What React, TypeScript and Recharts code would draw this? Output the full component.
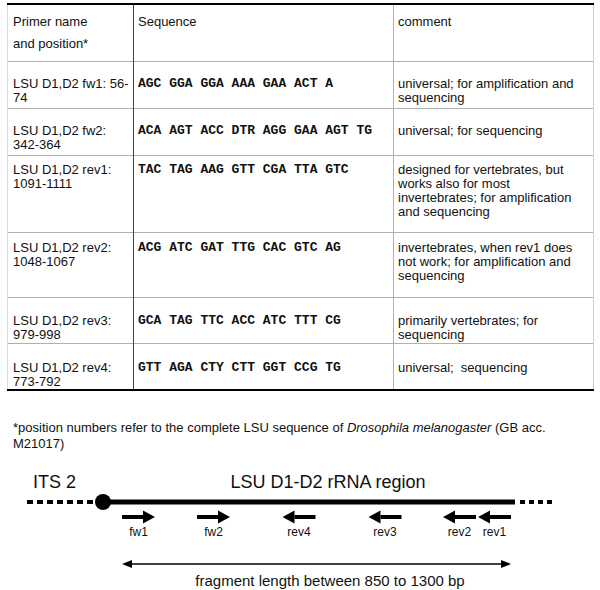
import React from "react";
import { ScatterChart, XAxis, YAxis, Scatter, ReferenceLine, ReferenceDot } from "recharts";

// table content
const primerNames = [
  "LSU D1,D2 fw1",
  "LSU D1,D2 fw2",
  "LSU D1,D2 rev1",
  "LSU D1,D2 rev2",
  "LSU D1,D2 rev3",
  "LSU D1,D2 rev4",
];
const primerPositions = ["56-74", "342-364", "1091-1111", "1048-1067", "979-998", "773-792"];
const sequences = [
  "AGC GGA GGA AAA GAA ACT A",
  "ACA AGT ACC DTR AGG GAA AGT TG",
  "TAC TAG AAG GTT CGA TTA GTC",
  "ACG ATC GAT TTG CAC GTC AG",
  "GCA TAG TTC ACC ATC TTT CG",
  "GTT AGA CTY CTT GGT CCG TG",
];
const comments = [
  "universal; for amplification and sequencing",
  "universal; for sequencing",
  "designed for vertebrates, but works also for most invertebrates; for amplification and sequencing",
  "invertebrates, when rev1 does not work; for amplification and sequencing",
  "primarily vertebrates; for sequencing",
  "universal;\u00a0 sequencing",
];

// diagram content (x = position along the schematic, not to scale)
const arrowLabels = ["fw1", "fw2", "rev4", "rev3", "rev2", "rev1"];
const arrowDirections = [1, 1, -1, -1, -1, -1];
const arrowCenters = [138.5, 213.5, 299, 385, 459.5, 494.5];
const regionStart = 103;
const regionEnd = 515;
const its2Span = [27, 93];
const downstreamSpan = [520, 553];
const fragmentSpan = [122, 511];
const fragmentText = "fragment length between 850 to 1300 bp";

// layout
const rowHeights = [57, 47, 47, 77, 65, 46, 47];
const rowPadTop = [7, 16, 16, 8, 9, 17, 18];
const colX = [7, 133, 393, 593];
const tableTop = 4;

const SANS = '"Liberation Sans", Arial, Helvetica, sans-serif';
const MONO = '"Liberation Mono", "Courier New", monospace';

// y levels inside the diagram chart
const Y = { title: 27, line: 47, arrow: 62, fragment: 109, fragText: 125 };

const Arrow = (props: any) => {
  const { cx, cy, payload } = props;
  const d = payload.dir;
  const half = 16.5;
  const tip = cx + d * half;
  const base = cx + d * (half - 12);
  const tail = cx - d * half;
  return (
    <g>
      <line x1={tail} y1={cy} x2={base} y2={cy} stroke="#000" strokeWidth={4} />
      <polygon points={`${tip},${cy} ${base},${cy - 6.5} ${base},${cy + 6.5}`} fill="#000" />
      <text x={cx} y={cy + 15} textAnchor="middle" dominantBaseline="central" fontSize={12} fontFamily={SANS} fill="#111">
        {payload.label}
      </text>
    </g>
  );
};

const Head = (props: any) => {
  const { cx, cy, payload } = props;
  const d = payload.dir;
  const base = cx - d * 10;
  return <polygon points={`${cx},${cy} ${base},${cy - 4} ${base},${cy + 4}`} fill="#000" />;
};

const TextMark = (size: number) => (props: any) => {
  const { cx, cy, payload } = props;
  return (
    <text x={cx} y={cy} textAnchor="middle" dominantBaseline="central" fontSize={size} fontFamily={SANS} fill="#111">
      {payload.text}
    </text>
  );
};

const Diagram = () => {
  const arrows = arrowCenters.map((x, i) => ({ x, y: Y.arrow, label: arrowLabels[i], dir: arrowDirections[i] }));
  const heads = [
    { x: fragmentSpan[0], y: Y.fragment, dir: -1 },
    { x: fragmentSpan[1], y: Y.fragment, dir: 1 },
  ];
  const titles = [
    { x: 54.5, y: Y.title, text: "ITS 2" },
    { x: 328, y: Y.title, text: "LSU D1-D2 rRNA region" },
  ];
  const fragLabel = [{ x: 330, y: Y.fragText, text: fragmentText }];
  return (
    <ScatterChart width={600} height={135} margin={{ top: 0, right: 0, bottom: 0, left: 0 }}>
      <XAxis type="number" dataKey="x" domain={[0, 600]} hide />
      <YAxis type="number" dataKey="y" domain={[0, 135]} reversed hide />
      <ReferenceLine
        segment={[{ x: its2Span[0], y: Y.line }, { x: its2Span[1], y: Y.line }]}
        stroke="#000"
        strokeWidth={4}
        strokeDasharray="6 4"
      />
      <ReferenceLine
        segment={[{ x: downstreamSpan[0], y: Y.line }, { x: downstreamSpan[1], y: Y.line }]}
        stroke="#000"
        strokeWidth={4}
        strokeDasharray="5 4"
      />
      <ReferenceLine
        segment={[{ x: regionStart, y: Y.line }, { x: regionEnd, y: Y.line }]}
        stroke="#000"
        strokeWidth={5}
      />
      <ReferenceDot x={regionStart} y={Y.line} r={8} fill="#000" stroke="none" />
      <ReferenceLine
        segment={[{ x: fragmentSpan[0] + 4, y: Y.fragment }, { x: fragmentSpan[1] - 4, y: Y.fragment }]}
        stroke="#000"
        strokeWidth={1.5}
      />
      <Scatter data={arrows} shape={Arrow} isAnimationActive={false} />
      <Scatter data={heads} shape={Head} isAnimationActive={false} />
      <Scatter data={titles} shape={TextMark(18)} isAnimationActive={false} />
      <Scatter data={fragLabel} shape={TextMark(15)} isAnimationActive={false} />
    </ScatterChart>
  );
};

const App = () => {
  const rowTops: number[] = [];
  let acc = tableTop;
  rowHeights.forEach((h) => {
    rowTops.push(acc);
    acc += h;
  });
  const tableBottom = acc;

  const cell = (col: number, row: number, content: React.ReactNode, extra: React.CSSProperties = {}) => (
    <div
      key={`${col}-${row}`}
      style={{
        position: "absolute",
        left: colX[col] + (col === 0 ? 6 : 5),
        top: rowTops[row] + rowPadTop[row],
        width: colX[col + 1] - colX[col] - (col === 0 ? 5 : 10),
        fontSize: 13,
        lineHeight: row === 0 ? "22px" : "14px",
        color: "#111",
        ...extra,
      }}
    >
      {content}
    </div>
  );

  const hLines = rowTops.slice(1).map((t) => (
    <div key={`h${t}`} style={{ position: "absolute", left: colX[0], top: t, width: colX[3] - colX[0], height: 1, background: "#b0b0b0" }} />
  ));
  const vColors = ["#dcdcdc", "#444", "#b0b0b0", "#cfcfcf"];
  const vLines = colX.map((x, i) => (
    <div key={`v${x}`} style={{ position: "absolute", left: x, top: tableTop, width: 1, height: tableBottom - tableTop, background: vColors[i] }} />
  ));

  return (
    <div style={{ position: "absolute", left: 0, top: 0, width: 600, height: 590, background: "#fff", fontFamily: SANS }}>
      {hLines}
      {vLines}
      <div style={{ position: "absolute", left: colX[0], top: tableTop - 1, width: colX[3] - colX[0] + 1, height: 2, background: "#000" }} />
      <div style={{ position: "absolute", left: colX[0], top: tableBottom - 1, width: colX[3] - colX[0] + 1, height: 2, background: "#000" }} />

      {cell(0, 0, <>Primer name<br />and position*</>)}
      {cell(1, 0, "Sequence")}
      {cell(2, 0, "comment")}

      {primerNames.map((n, i) => cell(0, i + 1, `${n}: ${primerPositions[i].replace("-", "-\u200B")}`))}
      {sequences.map((s, i) =>
        cell(1, i + 1, s, { fontFamily: MONO, fontWeight: 700, fontSize: 13, whiteSpace: "pre" })
      )}
      {comments.map((c, i) => cell(2, i + 1, c))}

      <div style={{ position: "absolute", left: 13, top: 420, width: 560, fontSize: 13, lineHeight: "16px", color: "#111" }}>
        <span>*position numbers refer to the complete LSU sequence of</span>{" "}
        <i>Drosophila melanogaster</i>{" "}
        <span>(GB acc.</span>{" "}
        <span>M21017)</span>
      </div>

      <div style={{ position: "absolute", left: 0, top: 455 }}>
        <Diagram />
      </div>
    </div>
  );
};

export default App;
